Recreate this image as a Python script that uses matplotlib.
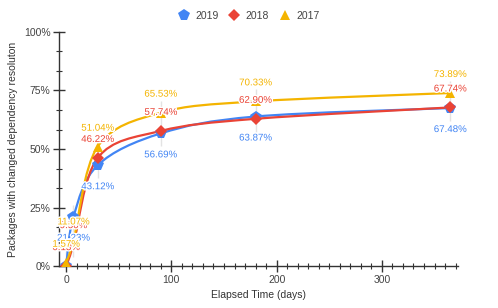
import matplotlib
matplotlib.use("Agg")
import matplotlib.pyplot as plt
import matplotlib.patheffects as pe
from matplotlib.path import Path
from matplotlib.patches import PathPatch
from matplotlib.lines import Line2D
from matplotlib.ticker import MultipleLocator, FuncFormatter

plt.rcParams['font.family'] = ['Liberation Sans', 'DejaVu Sans']

days = [0, 7, 30, 90, 180, 365]
y2019 = [0.0, 21.23, 43.12, 56.69, 63.87, 67.48]
y2018 = [0.13, 9.50, 46.22, 57.74, 62.90, 67.74]
y2017 = [1.57, 11.07, 51.04, 65.53, 70.33, 73.89]

series = [
    ("2019", y2019, "#4285F4", "p", 8.5, "below"),
    ("2018", y2018, "#EA4335", "D", 6.5, "above"),
    ("2017", y2017, "#F4B400", "^", 6.5, "above"),
]


def smooth_path(xs, ys, t=1.0 / 6):
    pts = list(zip(xs, ys))
    n = len(pts)
    verts = [pts[0]]
    codes = [Path.MOVETO]
    for i in range(n - 1):
        p0 = pts[max(i - 1, 0)]
        p1 = pts[i]
        p2 = pts[i + 1]
        p3 = pts[min(i + 2, n - 1)]
        c1 = (p1[0] + (p2[0] - p0[0]) * t, p1[1] + (p2[1] - p0[1]) * t)
        c2 = (p2[0] - (p3[0] - p1[0]) * t, p2[1] - (p3[1] - p1[1]) * t)
        verts += [c1, c2, p2]
        codes += [Path.CURVE4] * 3
    return Path(verts, codes)


fig = plt.figure(figsize=(4.98, 3.08), dpi=100)
ax = fig.add_axes([0.118, 0.135, 0.801, 0.762])
ax.set_xlim(-7, 372)
ax.set_ylim(0, 100)

# faint leader lines at each sample
for i, d in enumerate(days):
    vals = [y2019[i], y2018[i], y2017[i]]
    ax.vlines(d, min(vals) - 5.5, max(vals) + 5.1, color="#e3e3e3", lw=1, zorder=1)

for name, ys, col, mk, ms, pos in series:
    ax.add_patch(PathPatch(smooth_path(days, ys), fill=False, edgecolor=col,
                           lw=1.6, zorder=2, capstyle="round"))
    ax.plot(days, ys, linestyle="none", marker=mk, color=col, markersize=ms,
            markeredgewidth=0, zorder=3)

for name, ys, col, mk, ms, pos in series:
    for i, (d, v) in enumerate(zip(days, ys)):
        if name == "2019" and i == 0:
            continue
        off = 19 if pos == "above" else -21
        ax.annotate(f"{v:.2f}%", (d, v), xytext=(0, off), textcoords="offset pixels",
                    ha="center", va="center", fontsize=7, color=col, zorder=5,
                    path_effects=[pe.withStroke(linewidth=2, foreground="white")])

ax.spines["top"].set_visible(False)
ax.spines["right"].set_visible(False)
for s in ("left", "bottom"):
    ax.spines[s].set_color("#333333")
    ax.spines[s].set_linewidth(1)

ax.xaxis.set_major_locator(MultipleLocator(100))
ax.xaxis.set_minor_locator(MultipleLocator(10))
ax.yaxis.set_major_locator(MultipleLocator(25))
ax.yaxis.set_minor_locator(MultipleLocator(25 / 3))
ax.yaxis.set_major_formatter(FuncFormatter(lambda v, p: f"{v:.0f}%"))
ax.tick_params(which="major", direction="inout", length=8, width=1, color="#333333",
               labelsize=7.5, labelcolor="#444444", pad=2)
ax.tick_params(which="minor", direction="inout", length=5, width=0.8, color="#333333")

ax.set_xlabel("Elapsed Time (days)", fontsize=7.5, color="#333333", labelpad=4)
ax.set_ylabel("Packages with changed dependency resoluton", fontsize=7.5,
              color="#333333", labelpad=4)

handles = [Line2D([], [], linestyle="none", marker=mk, color=col, markersize=ms,
                  markeredgewidth=0) for name, ys, col, mk, ms, pos in series]
fig.legend(handles, [s[0] for s in series], loc="center", bbox_to_anchor=(0.5, 0.948),
           ncol=3, frameon=False, fontsize=7.5, handletextpad=0.6, columnspacing=1.0,
           handlelength=1.0, labelcolor="#444444")

fig.savefig("out.png", dpi=100)
